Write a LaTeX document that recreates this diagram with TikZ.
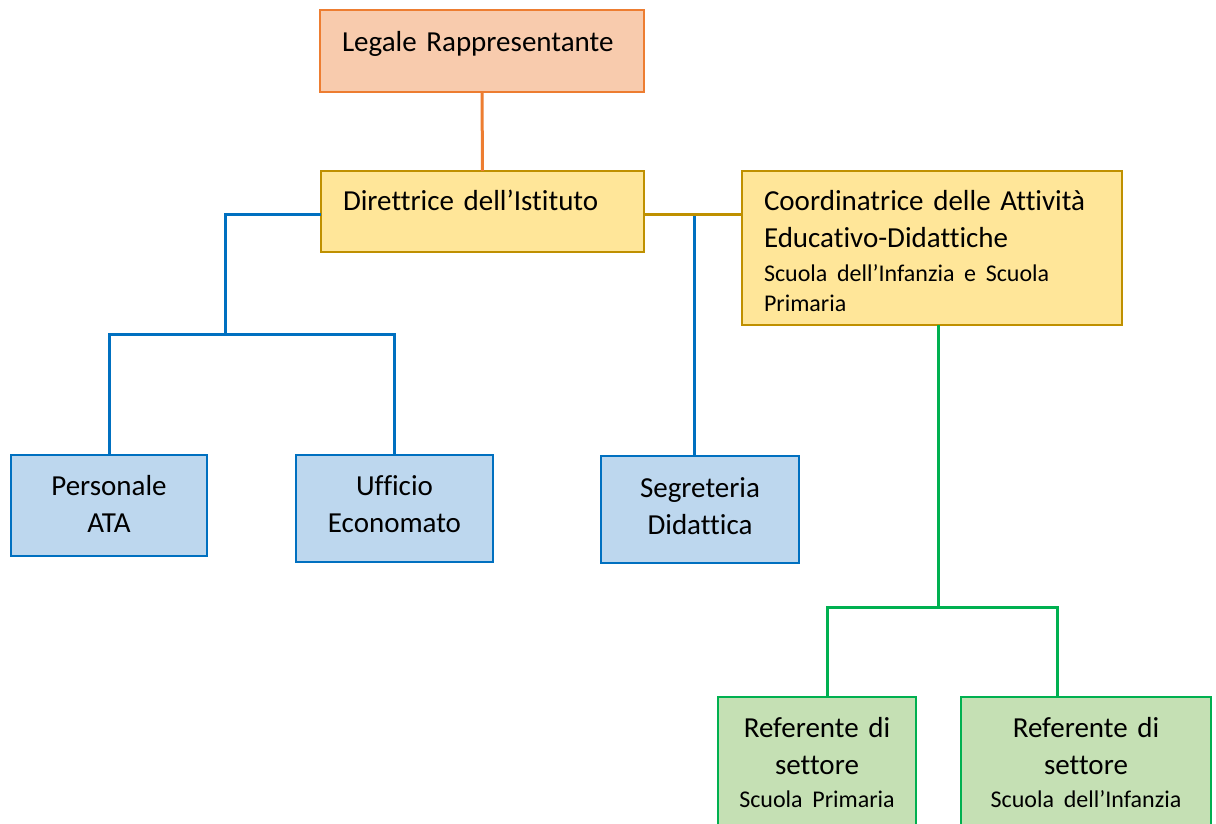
\documentclass[tikz,border=0pt]{standalone}
\usepackage{fontspec}
\setmainfont{Carlito}[Ligatures=CommonOff]
\usepackage{tikz}
\usetikzlibrary{positioning}

\definecolor{legaleborder}{HTML}{ED7D31}
\definecolor{legalefill}{HTML}{F8CBAD}
\definecolor{direzioneborder}{HTML}{BF9000}
\definecolor{direzionefill}{HTML}{FFE699}
\definecolor{ufficiborder}{HTML}{0070C0}
\definecolor{ufficifill}{HTML}{BDD7EE}
\definecolor{settoreborder}{HTML}{00B050}
\definecolor{settorefill}{HTML}{C5E0B4}

\newcommand{\testogrande}{\fontsize{29}{37}\selectfont}
\newcommand{\testopiccolo}{\fontsize{24}{30}\selectfont}

\tikzset{
    carica/.style={draw, line width=2.5pt, anchor=north west, outer sep=0pt, inner ysep=0pt, font=\testogrande},
    sinistra/.style={carica, inner xsep=22pt, align=left},
    centrato/.style={carica, inner xsep=0pt, align=center},
    legame/.style={line width=3pt},
}

\begin{document}
\begin{tikzpicture}[x=1pt, y=-1pt]
                \path[use as bounding box, fill=white] (0,0) rectangle (1216,824);

                \node[sinistra, draw=legaleborder, fill=legalefill, text width=280pt, text height=42pt, text depth=40pt] (legale) at (320,10) {Legale Rappresentante};
                \node[sinistra, draw=direzioneborder, fill=direzionefill, text width=279pt, text height=40pt, text depth=41pt] (direttrice) at (321,171) {Direttrice dell’Istituto};
                \node[sinistra, draw=direzioneborder, fill=direzionefill, text width=336pt, text height=40pt, text depth=114pt] (coordinatrice) at (742,171) {Coordinatrice delle Attività\\Educativo-Didattiche\\[-3.5pt]{\testopiccolo Scuola dell’Infanzia e Scuola}\\[-7pt]{\testopiccolo Primaria}};

                \node[centrato, draw=ufficiborder, fill=ufficifill, text width=196pt, text height=40pt, text depth=61pt] (personale) at (11,455) {Personale\\ATA};
                \node[centrato, draw=ufficiborder, fill=ufficifill, text width=197pt, text height=40pt, text depth=67pt] (ufficio) at (296,455) {Ufficio\\Economato};
                \node[centrato, draw=ufficiborder, fill=ufficifill, text width=198pt, text height=41pt, text depth=66pt] (segreteria) at (601,456) {Segreteria\\Didattica};

                \node[centrato, draw=settoreborder, fill=settorefill, text width=198pt, text height=40pt, text depth=95pt] (primaria) at (718,697) {Referente di\\settore\\[-4pt]{\testopiccolo Scuola Primaria}};
                \node[centrato, draw=settoreborder, fill=settorefill, text width=250pt, text height=40pt, text depth=95pt] (infanzia) at (961,697) {Referente di\\settore\\[-4pt]{\testopiccolo Scuola dell’Infanzia}};

                \coordinate (giunzione) at (694,214);
                \coordinate (ramosinistro) at (225,334);
                \coordinate (ramoverde) at (938,607);
                \coordinate (versoprimaria) at (827,607);
                \coordinate (versoinfanzia) at (1057,607);

                \draw[legame, legaleborder] (legale.south) -- (direttrice.north);
                \draw[legame, ufficiborder] (giunzione) -- (segreteria.north -| giunzione);
                \draw[legame, direzioneborder] (direttrice.east |- giunzione) -- (coordinatrice.west |- giunzione);
                \draw[legame, ufficiborder] (direttrice.west |- giunzione) -| (ramosinistro);
                \draw[legame, ufficiborder] (personale.north) |- (ramosinistro) -| (ufficio.north);
                \draw[legame, settoreborder] (coordinatrice.south -| ramoverde) -- (ramoverde);
                \draw[legame, settoreborder] (primaria.north -| versoprimaria) -- (versoprimaria) -- (versoinfanzia) -- (infanzia.north -| versoinfanzia);
            \end{tikzpicture}
\end{document}
